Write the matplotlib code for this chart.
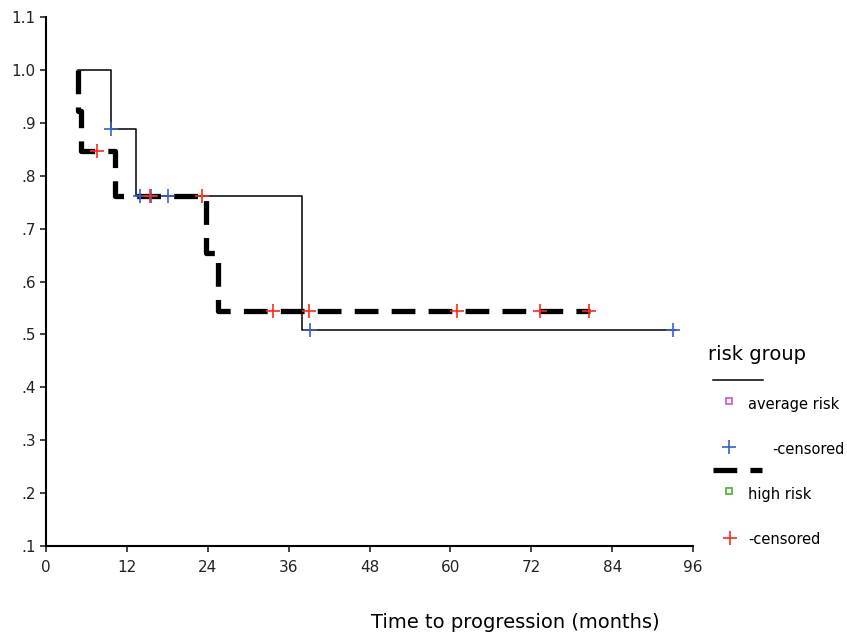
import matplotlib
matplotlib.use("Agg")
import matplotlib.pyplot as plt
from matplotlib.lines import Line2D

# Average risk group (solid): start, drop times and survival after each drop
avg_start = 4.8
avg_drop_t = [9.6, 13.3, 38.0]
avg_drop_s = [0.889, 0.762, 0.508]
avg_end = 93.5
avg_cens_t = [9.6, 14.0, 15.6, 18.1, 39.2, 93.0]
avg_cens_s = [0.889, 0.762, 0.762, 0.762, 0.508, 0.508]

# High risk group (dashed)
high_start = 4.7
high_drop_t = [4.75, 5.2, 10.2, 23.8, 25.5]
high_drop_s = [0.923, 0.846, 0.762, 0.653, 0.544]
high_end = 80.7
high_cens_t = [7.5, 15.4, 23.2, 33.7, 39.0, 61.0, 73.3, 80.6]
high_cens_s = [0.846, 0.762, 0.762, 0.544, 0.544, 0.544, 0.544, 0.544]

xticks = [0, 12, 24, 36, 48, 60, 72, 84, 96]
yticks = [0.1, 0.2, 0.3, 0.4, 0.5, 0.6, 0.7, 0.8, 0.9, 1.0, 1.1]
ylabels = [".1", ".2", ".3", ".4", ".5", ".6", ".7", ".8", ".9", "1.0", "1.1"]

W, H = 847, 639
fig = plt.figure(figsize=(W / 100, H / 100), dpi=100)
ax = fig.add_axes([46 / W, 1 - 546 / H, (693 - 46) / W, (546 - 17) / H])

ax.step([avg_start] + avg_drop_t + [avg_end], [1.0] + avg_drop_s + [avg_drop_s[-1]],
        where="post", color="black", lw=1.1)
ax.step([high_start] + high_drop_t + [high_end], [1.0] + high_drop_s + [high_drop_s[-1]],
        where="post", color="black", lw=3.8, linestyle=(0, (4.5, 2.5)))

ax.plot(avg_cens_t, avg_cens_s, linestyle="none", marker="+", color="#3a5fcd",
        markersize=10, markeredgewidth=1.2, zorder=5)
ax.plot(high_cens_t, high_cens_s, linestyle="none", marker="+", color="#ff2a1a",
        markersize=10, markeredgewidth=1.2, zorder=5)

ax.set_xlim(0, 96)
ax.set_ylim(0.1, 1.1)
ax.set_xticks(xticks)
ax.set_yticks(yticks)
ax.set_yticklabels(ylabels)
for s in ["top", "right"]:
    ax.spines[s].set_visible(False)
ax.spines["left"].set_linewidth(1.5)
ax.spines["bottom"].set_linewidth(1.5)
ax.tick_params(axis="both", direction="out", length=4, width=1.2, labelsize=11,
               colors="#222222")
ax.tick_params(axis="x", pad=6)

fig.text(515 / W, 1 - 622 / H, "Time to progression (months)", ha="center",
         va="center", fontsize=14)

# Legend drawn in figure coordinates
def fx(x):
    return x / W

def fy(y):
    return 1 - y / H

fig.text(fx(708), fy(355), "risk group", fontsize=14, ha="left", va="center")
fig.add_artist(Line2D([fx(713), fx(763)], [fy(380), fy(380)], color="black", lw=1.1))
fig.add_artist(Line2D([fx(729)], [fy(401)], marker="s", markersize=5, markerfacecolor="white",
                      markeredgecolor="#cc66bb", markeredgewidth=1.3, linestyle="none"))
fig.text(fx(748), fy(404), "average risk", fontsize=10.5, ha="left", va="center")
fig.add_artist(Line2D([fx(729)], [fy(447)], marker="+", markersize=10, color="#3a5fcd",
                      markeredgewidth=1.2, linestyle="none"))
fig.text(fx(772), fy(449), "-censored", fontsize=10.5, ha="left", va="center")
fig.add_artist(Line2D([fx(713), fx(762)], [fy(470), fy(470)], color="black", lw=3.8,
                      linestyle=(0, (4.5, 2.5))))
fig.add_artist(Line2D([fx(729)], [fy(491)], marker="s", markersize=5, markerfacecolor="white",
                      markeredgecolor="#55bb33", markeredgewidth=1.3, linestyle="none"))
fig.text(fx(748), fy(494), "high risk", fontsize=10.5, ha="left", va="center")
fig.add_artist(Line2D([fx(730)], [fy(538)], marker="+", markersize=10, color="#ff2a1a",
                      markeredgewidth=1.2, linestyle="none"))
fig.text(fx(748), fy(540), "-censored", fontsize=10.5, ha="left", va="center")

fig.savefig("out.png", dpi=100)
